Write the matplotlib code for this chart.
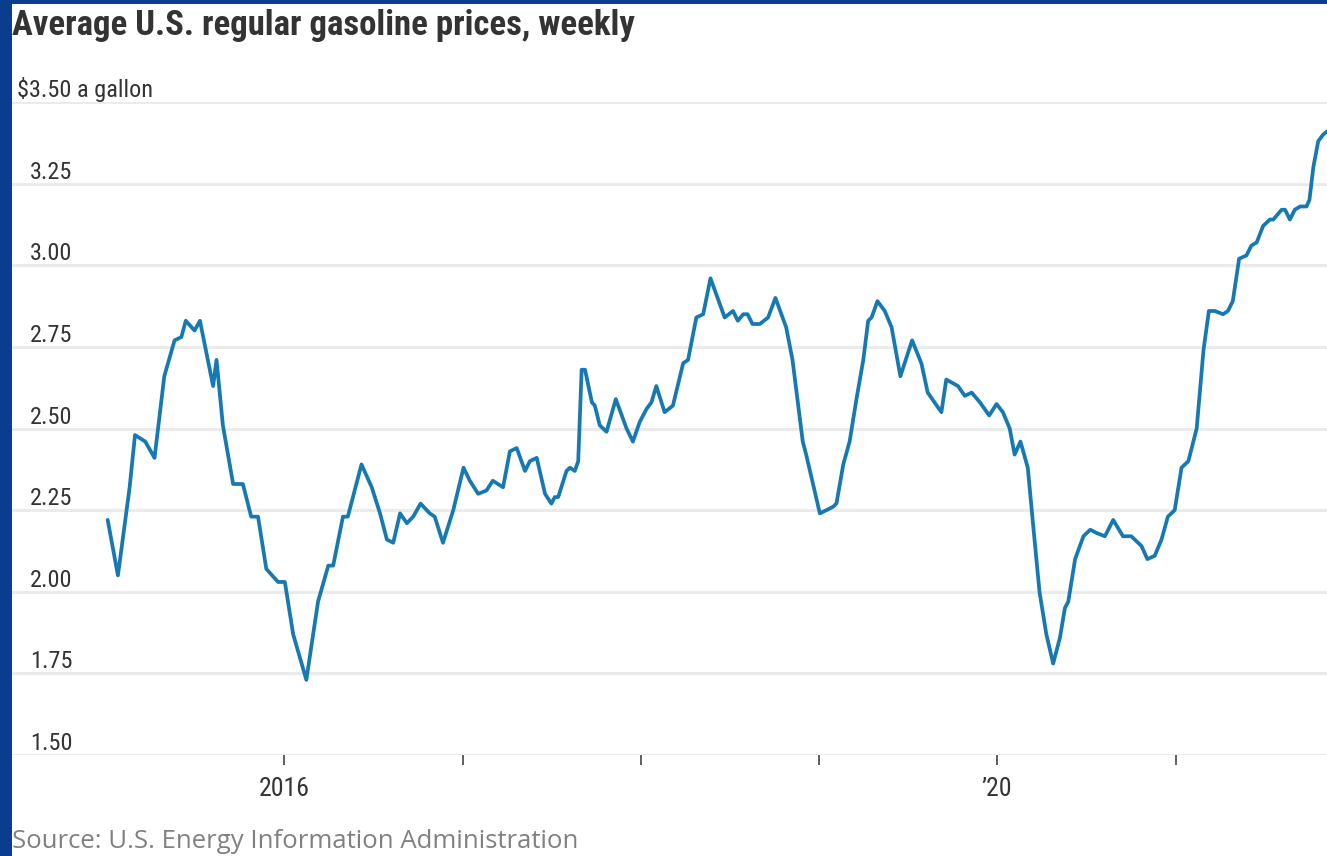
import numpy as np
import pandas as pd
import matplotlib
matplotlib.use("Agg")
import matplotlib.pyplot as plt
import matplotlib.transforms as mtransforms
from matplotlib.patches import Rectangle

# weekly regular gasoline price ($ per gallon)
dates = [
    '2015-01-05', '2015-01-26', '2015-02-19', '2015-03-02', '2015-03-23', '2015-04-11',
    '2015-05-01', '2015-05-22', '2015-06-05', '2015-06-14', '2015-07-02', '2015-07-13',
    '2015-08-09', '2015-08-16', '2015-08-29', '2015-09-19', '2015-10-09', '2015-10-26',
    '2015-11-09', '2015-11-26', '2015-12-20',
    '2016-01-03', '2016-01-20', '2016-02-16', '2016-03-11', '2016-04-01', '2016-04-11',
    '2016-05-01', '2016-05-11', '2016-06-08', '2016-06-29', '2016-07-16', '2016-07-30',
    '2016-08-12', '2016-08-26', '2016-09-09', '2016-09-22', '2016-10-07', '2016-10-26',
    '2016-11-05', '2016-11-22', '2016-12-13',
    '2017-01-03', '2017-01-16', '2017-02-02', '2017-02-19', '2017-03-04', '2017-03-25',
    '2017-04-08', '2017-04-22', '2017-05-09', '2017-05-19', '2017-06-02', '2017-06-19',
    '2017-07-02', '2017-07-09', '2017-07-16', '2017-08-02', '2017-08-09', '2017-08-19',
    '2017-08-26', '2017-09-02', '2017-09-09', '2017-09-23', '2017-09-29', '2017-10-09',
    '2017-10-23', '2017-11-11', '2017-12-03', '2017-12-16', '2017-12-30',
    '2018-01-13', '2018-01-23', '2018-02-02', '2018-02-19', '2018-03-08', '2018-03-29',
    '2018-04-08', '2018-04-25', '2018-05-09', '2018-05-24', '2018-06-05', '2018-06-22',
    '2018-07-09', '2018-07-19', '2018-07-30', '2018-08-08', '2018-08-18', '2018-09-02',
    '2018-09-19', '2018-10-04', '2018-10-26', '2018-11-08', '2018-11-29', '2018-12-06',
    '2019-01-03', '2019-01-30', '2019-02-06', '2019-02-20', '2019-03-05', '2019-03-19',
    '2019-04-02', '2019-04-12', '2019-04-19', '2019-05-01', '2019-05-16', '2019-05-30',
    '2019-06-17', '2019-07-11', '2019-07-30', '2019-08-12', '2019-09-09', '2019-09-19',
    '2019-10-13', '2019-10-27', '2019-11-10', '2019-11-27', '2019-12-16', '2019-12-31',
    '2020-01-13', '2020-01-27', '2020-02-06', '2020-02-18', '2020-03-04', '2020-03-14',
    '2020-03-28', '2020-04-11', '2020-04-25', '2020-05-09', '2020-05-19', '2020-05-26',
    '2020-06-09', '2020-06-26', '2020-07-10', '2020-07-23', '2020-08-09', '2020-08-26',
    '2020-09-15', '2020-10-02', '2020-10-23', '2020-11-04', '2020-11-19', '2020-12-03',
    '2020-12-16', '2020-12-30',
    '2021-01-13', '2021-01-27', '2021-02-13', '2021-02-20', '2021-02-27', '2021-03-10',
    '2021-03-22', '2021-04-08', '2021-04-18', '2021-04-28', '2021-05-11', '2021-05-26',
    '2021-06-05', '2021-06-16', '2021-06-29', '2021-07-13', '2021-07-20', '2021-08-06',
    '2021-08-13', '2021-08-23', '2021-09-02', '2021-09-13', '2021-09-26', '2021-10-02',
    '2021-10-10', '2021-10-20', '2021-10-30', '2021-11-07',
]
prices = [
    2.22, 2.05, 2.32, 2.48, 2.46, 2.41, 2.66, 2.77, 2.78, 2.83, 2.80, 2.83,
    2.63, 2.71, 2.51, 2.33, 2.33, 2.23, 2.23, 2.07, 2.03,
    2.03, 1.87, 1.73, 1.97, 2.08, 2.08, 2.23, 2.23, 2.39, 2.32, 2.24, 2.16,
    2.15, 2.24, 2.21, 2.23, 2.27, 2.24, 2.23, 2.15, 2.25,
    2.38, 2.34, 2.30, 2.31, 2.34, 2.32, 2.43, 2.44, 2.37, 2.40, 2.41, 2.30,
    2.27, 2.29, 2.29, 2.37, 2.38, 2.37, 2.40, 2.68, 2.68, 2.58, 2.57, 2.51,
    2.49, 2.59, 2.50, 2.46, 2.52,
    2.56, 2.58, 2.63, 2.55, 2.57, 2.70, 2.71, 2.84, 2.85, 2.96, 2.91, 2.84,
    2.86, 2.83, 2.85, 2.85, 2.82, 2.82, 2.84, 2.90, 2.81, 2.71, 2.46, 2.42,
    2.24, 2.26, 2.27, 2.39, 2.46, 2.59, 2.71, 2.83, 2.84, 2.89, 2.86, 2.81,
    2.66, 2.77, 2.70, 2.61, 2.55, 2.65, 2.63, 2.60, 2.61, 2.58, 2.54, 2.575,
    2.55, 2.50, 2.42, 2.46, 2.38, 2.22, 2.00, 1.87, 1.78, 1.86, 1.95, 1.97,
    2.10, 2.17, 2.19, 2.18, 2.17, 2.22, 2.17, 2.17, 2.14, 2.10, 2.11, 2.16,
    2.23, 2.25,
    2.38, 2.40, 2.50, 2.62, 2.74, 2.86, 2.86, 2.85, 2.86, 2.89, 3.02, 3.03,
    3.06, 3.07, 3.12, 3.14, 3.14, 3.17, 3.17, 3.14, 3.17, 3.18, 3.18, 3.20,
    3.30, 3.38, 3.40, 3.41,
]

y_ticks = [1.50, 1.75, 2.00, 2.25, 2.50, 2.75, 3.00, 3.25, 3.50]
y_labels = ['1.50', '1.75', '2.00', '2.25', '2.50', '2.75', '3.00', '3.25', '$3.50 a gallon']
x_ticks = ['2016-01-01', '2017-01-01', '2018-01-01', '2019-01-01', '2020-01-01', '2021-01-01']
x_labels = ['2016', '', '', '', '\u201920', '']

title = 'Average U.S. regular gasoline prices, weekly'
source = 'Source: U.S. Energy Information Administration'

narrow = ['Roboto Condensed', 'Roboto', 'DejaVu Sans']
line_color = '#1779b2'
border_color = '#0b3d8e'
grid_color = '#ebebeb'
text_color = '#333333'

W, H = 1327, 856
fig = plt.figure(figsize=(W / 100, H / 100), dpi=100)
fig.patch.set_facecolor('white')

# frame strips (left and top)
fig.patches.append(Rectangle((0, 0), 12 / W, 1, transform=fig.transFigure,
                             facecolor=border_color, edgecolor='none', zorder=10))
fig.patches.append(Rectangle((0, 1 - 4 / H), 1, 4 / H, transform=fig.transFigure,
                             facecolor=border_color, edgecolor='none', zorder=10))

ax = fig.add_axes([12 / W, 101 / H, 1315 / W, 653 / H])
ax.set_facecolor('white')

x = pd.to_datetime(dates)
ax.plot(x, prices, color=line_color, linewidth=2.7, solid_joinstyle='round',
        solid_capstyle='round', zorder=3)

ax.set_ylim(1.50, 3.50)
ax.set_xlim(pd.Timestamp('2014-06-23'), pd.Timestamp('2021-11-07'))

for v in y_ticks:
    ax.axhline(v, color=grid_color, linewidth=2.2, zorder=1)

for sp in ax.spines.values():
    sp.set_visible(False)

ax.set_yticks([])
ax.set_xticks(pd.to_datetime(x_ticks))
ax.set_xticklabels(x_labels, fontfamily=narrow, fontsize=18.5, color=text_color)
ax.tick_params(axis='x', length=7, width=1.2, color='#444444', pad=9, direction='out')

# y labels sit above each gridline, inside the plot
blend = mtransforms.blended_transform_factory(ax.transAxes, ax.transData)
for v, lab in zip(y_ticks, y_labels):
    dx = 5 if lab.startswith('$') else 18
    ax.annotate(lab, xy=(0, v), xycoords=blend, xytext=(dx, 5),
                textcoords='offset pixels', ha='left', va='baseline',
                fontfamily=narrow, fontsize=17.5, color=text_color)

fig.text(12 / W, 1 - 26 / H, title, ha='left', va='center', fontfamily=narrow,
         fontweight='bold', fontsize=25, color=text_color)
fig.text(12 / W, 8 / H, source, ha='left', va='baseline', fontfamily='Open Sans',
         fontsize=18.5, color='#808080')

fig.savefig('out.png', dpi=100, facecolor='white')
